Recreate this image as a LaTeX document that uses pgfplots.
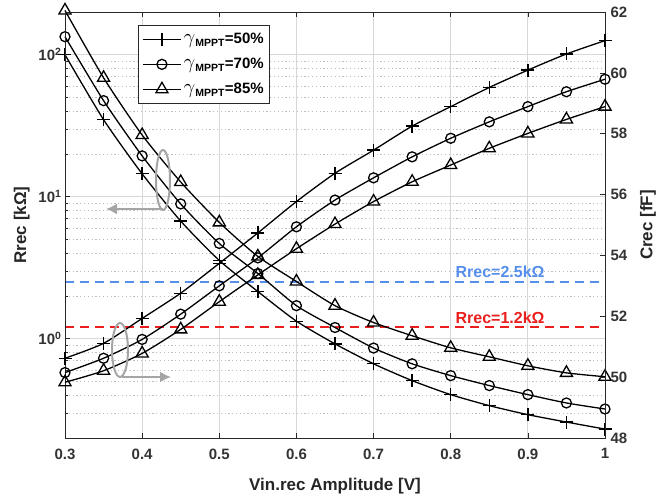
\documentclass[border=0pt]{standalone}
\usepackage{pgfplots}
\usepackage{pgfplotstable}
\usepackage{fontspec}
\setmainfont{Liberation Sans}
\pgfplotsset{compat=1.18}
\usetikzlibrary{arrows.meta}

\definecolor{gridgray}{RGB}{215,215,215}
\definecolor{minorgray}{RGB}{190,190,190}
\definecolor{annogray}{RGB}{165,165,165}
\definecolor{rblue}{RGB}{85,142,235}
\definecolor{rred}{RGB}{235,30,30}
\definecolor{boxgray}{RGB}{40,40,40}

% Rrec [kOhm] for gamma = 50, 70, 85 %
\pgfplotstableread{
x    rp     rc     rt
0.30 100    134    205
0.35 34.9   47.5   68.8
0.40 14.5   19.4   27.2
0.45 6.74   8.9    12.7
0.50 3.56   4.69   6.6
0.55 2.15   2.88   3.8
0.60 1.33   1.71   2.53
0.65 0.92   1.20   1.71
0.70 0.666  0.86   1.30
0.75 0.507  0.666  1.05
0.80 0.404  0.55   0.863
0.85 0.338  0.468  0.746
0.90 0.292  0.404  0.645
0.95 0.259  0.353  0.575
1.00 0.231  0.32   0.54
}\rrec

% Crec [fF] for gamma = 50, 70, 85 %
\pgfplotstableread{
x    cp     cc     ct
0.30 50.62  50.15  49.83
0.35 51.11  50.62  50.21
0.40 51.93  51.24  50.78
0.45 52.76  52.07  51.57
0.50 53.74  53.00  52.48
0.55 54.74  53.92  53.36
0.60 55.77  54.94  54.22
0.65 56.70  55.82  55.03
0.70 57.46  56.55  55.77
0.75 58.25  57.24  56.42
0.80 58.89  57.85  56.97
0.85 59.52  58.39  57.52
0.90 60.09  58.89  58.01
0.95 60.62  59.38  58.47
1.00 61.06  59.79  58.89
}\crec

\newcommand{\gam}{{\fontsize{20}{20}\selectfont$\gamma$}}

\pgfplotsset{
  common/.style={
    at={(65pt,60pt)}, anchor=south west,
    scale only axis, width=540pt, height=426pt,
    xmin=0.3, xmax=1,
    tick align=inside,
    axis line style={boxgray, line width=0.9pt},
    tick style={boxgray, line width=0.7pt},
    major tick length=5pt, minor tick length=3pt,
    tick label style={font=\fontsize{15}{17}\selectfont\bfseries, text=black!80},
    label style={font=\fontsize{17}{20}\selectfont\bfseries, text=black!85},
    /pgf/number format/assume math mode=true,
    clip=false,
  },
  crv/.style={black, line width=1.3pt, smooth, tension=0.4,
    mark options={solid, line width=1.3pt, fill=none}},
}

\begin{document}
\begin{tikzpicture}
\useasboundingbox (0,0) rectangle (659pt,498pt);

\begin{axis}[common,
  ymode=log, ymin=0.2, ymax=200,
  xtick={0.3,0.4,0.5,0.6,0.7,0.8,0.9,1},
  xticklabels={0.3,0.4,0.5,0.6,0.7,0.8,0.9,1},
  xtick pos=both,
  xticklabel style={yshift=-7pt},
  ytick={1,10,100},
  yticklabels={10\textsuperscript{0},10\textsuperscript{1},10\textsuperscript{2}},
  minor ytick={0.2,0.3,0.4,0.5,0.6,0.7,0.8,0.9,2,3,4,5,6,7,8,9,20,30,40,50,60,70,80,90,200},
  ytick pos=left,
  xmajorgrids, ymajorgrids, yminorgrids,
  major grid style={gridgray, line width=0.8pt},
  minor grid style={minorgray, line width=0.8pt, dash pattern=on 1.2pt off 2.6pt},
  xlabel={Vin.rec Amplitude [V]},
  ylabel={Rrec [kΩ]},
  xlabel style={yshift=-12pt},
  ylabel style={yshift=2pt},
  legend style={at={(0.135,0.9695)}, anchor=north west,
    font=\fontsize{15}{18}\selectfont\bfseries,
    draw=boxgray, line width=0.8pt, inner xsep=4pt, inner ysep=6pt, row sep=9pt,
    cells={anchor=west}},
  legend cell align=left,
  legend image code/.code={
    \draw[mark repeat=2, mark phase=2] plot coordinates {(0pt,0pt) (19pt,0pt) (38pt,0pt)};},
]
\addplot[rblue, line width=2pt, dash pattern=on 9pt off 6pt, forget plot]
  coordinates {(0.3,2.5) (1,2.5)};
\addplot[rred, line width=2pt, dash pattern=on 9pt off 6pt, forget plot]
  coordinates {(0.3,1.2) (1,1.2)};
\node[rblue, anchor=south, inner sep=0pt, yshift=4pt,
  font=\fontsize{16}{18}\selectfont\bfseries] at (axis cs:0.864,2.5) {Rrec=2.5kΩ};
\node[rred, anchor=south, inner sep=0pt, yshift=4pt,
  font=\fontsize{16}{18}\selectfont\bfseries] at (axis cs:0.864,1.2) {Rrec=1.2kΩ};

\addplot[crv, mark=+, mark size=6.5pt] table[x=x, y=rp] {\rrec};
\addplot[crv, mark=o, mark size=5pt] table[x=x, y=rc] {\rrec};
\addplot[crv, mark=triangle, mark size=7pt] table[x=x, y=rt] {\rrec};
\legend{\gam\textsubscript{MPPT}=50\%, \gam\textsubscript{MPPT}=70\%, \gam\textsubscript{MPPT}=85\%}
\end{axis}

\begin{axis}[common,
  xtick=\empty,
  ymin=48, ymax=62,
  ytick={48,50,52,54,56,58,60,62},
  ytick pos=right, yticklabel pos=right,
  yticklabel style={xshift=2pt},
  ylabel={Crec [fF]},
  ylabel style={yshift=-6pt},
]
\addplot[crv, mark=+, mark size=6.5pt] table[x=x, y=cp] {\crec};
\addplot[crv, mark=o, mark size=5pt] table[x=x, y=cc] {\crec};
\addplot[crv, mark=triangle, mark size=7pt] table[x=x, y=ct] {\crec};
\end{axis}

% gray grouping ellipses with arrows
\draw[annogray, line width=2pt] (163pt,318pt) ellipse [x radius=7pt, y radius=30pt];
\draw[annogray, line width=2pt, -{Latex[length=11pt, width=11pt]}] (163pt,289pt) -- (106pt,289pt);
\draw[annogray, line width=2pt] (120pt,148pt) ellipse [x radius=8pt, y radius=27pt];
\draw[annogray, line width=2pt, -{Latex[length=11pt, width=11pt]}] (122pt,121pt) -- (171pt,121pt);
\end{tikzpicture}
\end{document}
